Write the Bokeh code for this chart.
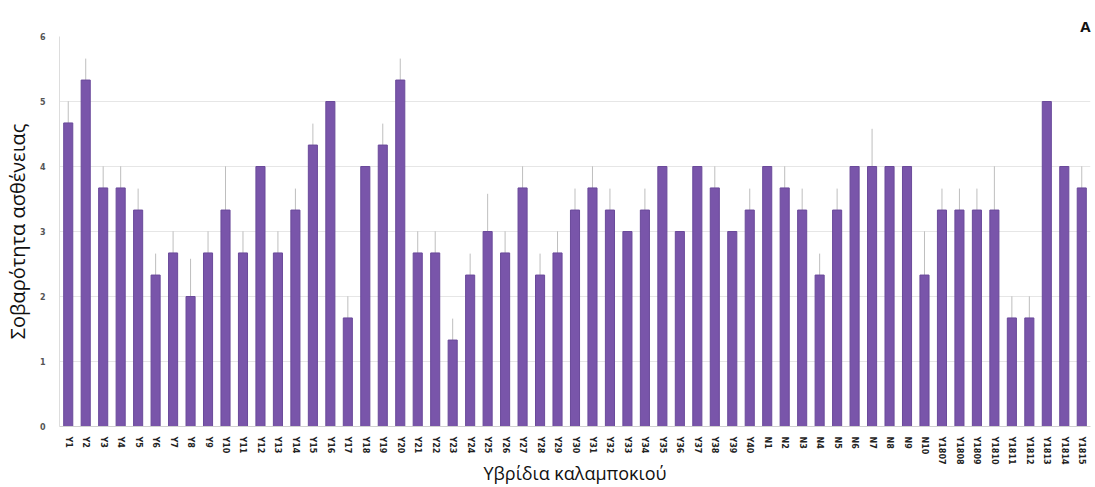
from bokeh.plotting import figure
from bokeh.models import ColumnDataSource, Whisker, FactorRange, Title, FixedTicker
from bokeh.embed import file_html
from bokeh.resources import INLINE

# Maize hybrids
hybrids = [f"Y{i}" for i in range(1, 41)] + [f"N{i}" for i in range(1, 11)] + \
          ["Y1807", "Y1808", "Y1809", "Y1810", "Y1811", "Y1812", "Y1813", "Y1814", "Y1815"]

# Mean disease severity
severity = [4.67, 5.33, 3.67, 3.67, 3.33, 2.33, 2.67, 2.00, 2.67, 3.33,
            2.67, 4.00, 2.67, 3.33, 4.33, 5.00, 1.67, 4.00, 4.33, 5.33,
            2.67, 2.67, 1.33, 2.33, 3.00, 2.67, 3.67, 2.33, 2.67, 3.33,
            3.67, 3.33, 3.00, 3.33, 4.00, 3.00, 4.00, 3.67, 3.00, 3.33,
            4.00, 3.67, 3.33, 2.33, 3.33, 4.00, 4.00, 4.00, 4.00, 2.33,
            3.33, 3.33, 3.33, 3.33, 1.67, 1.67, 5.00, 4.00, 3.67]

# Standard error
std_err = [0.33, 0.33, 0.33, 0.33, 0.33, 0.33, 0.33, 0.58, 0.33, 0.67,
           0.33, 0.00, 0.33, 0.33, 0.33, 0.00, 0.33, 0.00, 0.33, 0.33,
           0.33, 0.33, 0.33, 0.33, 0.58, 0.33, 0.33, 0.33, 0.33, 0.33,
           0.33, 0.33, 0.00, 0.33, 0.00, 0.00, 0.00, 0.33, 0.00, 0.33,
           0.00, 0.33, 0.33, 0.33, 0.33, 0.00, 0.58, 0.00, 0.00, 0.67,
           0.33, 0.33, 0.33, 0.67, 0.33, 0.33, 0.00, 0.00, 0.33]

y_ticks = [0, 1, 2, 3, 4, 5, 6]

src = ColumnDataSource(dict(
    x=hybrids,
    top=severity,
    upper=[m + e for m, e in zip(severity, std_err)],
    lower=[m - e for m, e in zip(severity, std_err)],
))

p = figure(
    width=1095, height=487,
    x_range=FactorRange(*hybrids, range_padding=0),
    y_range=(0, 6),
    output_backend="svg", toolbar_location=None,
    min_border_left=58, min_border_right=5, min_border_top=36, min_border_bottom=0,
)
p.title = Title(text="A", align="right", text_font="Open Sans", text_font_size="15px",
                text_font_style="bold", text_color="#111111", standoff=2)

p.vbar(x="x", top="top", width=0.52, source=src,
       fill_color="#7955aa", line_color="#6a4a9a", line_width=1)

err = Whisker(base="x", upper="upper", lower="lower", source=src,
              line_color="#444444", line_alpha=0.35, line_width=1)
err.upper_head = None
err.lower_head = None
p.add_layout(err)

p.outline_line_color = None
p.xgrid.grid_line_color = None
p.ygrid.grid_line_color = "#e6e6e6"
p.ygrid.ticker = FixedTicker(ticks=y_ticks)

p.yaxis.ticker = FixedTicker(ticks=y_ticks)
p.yaxis.axis_line_color = "#dddddd"
p.yaxis.major_tick_line_color = None
p.yaxis.minor_tick_line_color = None
p.yaxis.major_label_text_font = "DejaVu Sans"
p.yaxis.major_label_text_font_size = "8px"
p.yaxis.major_label_text_font_style = "bold"
p.yaxis.major_label_text_color = "#555555"
p.yaxis.major_label_standoff = 8
p.yaxis.axis_label = "Σοβαρότητα ασθένειας"
p.yaxis.axis_label_text_font = "Open Sans"
p.yaxis.axis_label_text_font_size = "20px"
p.yaxis.axis_label_text_font_style = "normal"
p.yaxis.axis_label_text_color = "#111111"
p.yaxis.axis_label_standoff = 6

p.xaxis.axis_line_color = "#d0d0d0"
p.xaxis.major_tick_line_color = None
p.xaxis.major_label_orientation = "vertical"
p.xaxis.major_label_text_font = "DejaVu Sans"
p.xaxis.major_label_text_font_size = "8px"
p.xaxis.major_label_text_font_style = "bold"
p.xaxis.major_label_text_color = "#222222"
p.xaxis.major_label_standoff = 4
p.xaxis.axis_label = "Υβρίδια καλαμποκιού"
p.xaxis.axis_label_text_font = "Open Sans"
p.xaxis.axis_label_text_font_size = "18px"
p.xaxis.axis_label_text_font_style = "normal"
p.xaxis.axis_label_text_color = "#111111"
p.xaxis.axis_label_standoff = -7

open("out.html", "w").write(file_html(p, INLINE))
